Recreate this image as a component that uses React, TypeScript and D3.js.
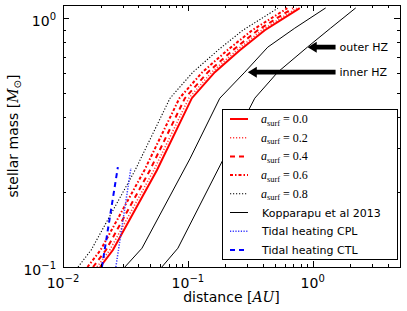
import React from 'react';
import * as d3 from 'd3';

const W = 407;
const H = 311;

// stellar mass grid for the albedo curves
const albedoMass = [0.1, 0.117, 0.245, 0.477, 0.607, 0.744, 0.895, 1.097];
const dist00 = [0.0198, 0.0251, 0.0565, 0.1076, 0.1644, 0.2606, 0.413, 0.787];
const dist02 = [0.0187, 0.0237, 0.0534, 0.1018, 0.1555, 0.2465, 0.391, 0.744];
const dist04 = [0.0174, 0.0221, 0.0497, 0.0947, 0.1447, 0.2294, 0.363, 0.693];
const dist06 = [0.0157, 0.02, 0.0449, 0.0856, 0.1307, 0.2073, 0.328, 0.626];
const dist08 = [0.0132, 0.0168, 0.0378, 0.072, 0.1099, 0.1743, 0.276, 0.526];

// Kopparapu et al 2013 habitable zone edges
const hzMass = [0.1, 0.119, 0.272, 0.477, 0.607, 0.765, 0.912, 1.1];
const hzInner = [0.0313, 0.0429, 0.1038, 0.1803, 0.2858, 0.4365, 0.718, 1.27];
const hzOuter = [0.0619, 0.0832, 0.1927, 0.3436, 0.5248, 0.906, 1.39, 2.21];

// tidal heating limits
const cplMass = [0.1, 0.25];
const cplDist = [0.0265, 0.035];
const ctlMass = [0.1, 0.252];
const ctlDist = [0.0205, 0.0275];

const albedoValues = ['0.0', '0.2', '0.4', '0.6', '0.8'];
const otherLabels = ['Kopparapu et al 2013', 'Tidal heating CPL', 'Tidal heating CTL'];

const hzNames = ['inner HZ', 'outer HZ'];
const hzTipDist = [0.302, 0.912];
const hzTipMass = [0.607, 0.765];
const hzTextDist = [1.64, 1.64];

const xMajor = [0.01, 0.1, 1];
const yMajor = [0.1, 1];

type Style = { color: string; width: number; dash?: string; cap?: string };

const styles: Style[] = [
  { color: '#ff0000', width: 2 },
  { color: '#ff4040', width: 1.6, dash: '1.2,1.8' },
  { color: '#ff0000', width: 2, dash: '5,4' },
  { color: '#ff0000', width: 2, dash: '3,2,1.5,2' },
  { color: '#000000', width: 1.1, dash: '1.2,1.8' },
  { color: '#000000', width: 1 },
  { color: '#3333ff', width: 1.5, dash: '1.2,1.5' },
  { color: '#0000ff', width: 2, dash: '5,4' },
];

const zip = (a: number[], b: number[]) => a.map((v, i) => [v, b[i]] as [number, number]);

function Sup({ v, x, y, anchor }: { v: number; x: number; y: number; anchor: string }) {
  const e = Math.round(Math.log10(v));
  const s = e < 0 ? '\u2212' + Math.abs(e) : String(e);
  return (
    <text x={x} y={y} textAnchor={anchor} fontSize={14} fontFamily="DejaVu Sans">
      10<tspan dy={-6} fontSize={10}>{s}</tspan>
    </text>
  );
}

export default function App() {
  const left = 63, right = 400, top = 5, bottom = 267;
  const x = d3.scaleLog().domain([0.01, 5]).range([left, right]);
  const y = d3.scaleLog().domain([0.1, 1.13]).range([bottom, top]);
  const line = d3.line<[number, number]>().x(d => x(d[0])).y(d => y(d[1]));

  const series = [
    zip(dist00, albedoMass),
    zip(dist02, albedoMass),
    zip(dist04, albedoMass),
    zip(dist06, albedoMass),
    zip(dist08, albedoMass),
  ];
  const hzLines = [zip(hzInner, hzMass), zip(hzOuter, hzMass)];
  const cpl = zip(cplDist, cplMass);
  const ctl = zip(ctlDist, ctlMass);

  const xt = x.ticks().filter(t => t >= 0.01 && t <= 5);
  const yt = y.ticks();
  const isMajor = (t: number, majors: number[]) => majors.some(m => Math.abs(m - t) < 1e-9);

  const lg = { x0: 222, y0: 109, x1: 397, y1: 259 };
  const rowY = (i: number) => 119 + i * 18.7;

  return (
    <svg width={W} height={H} style={{ position: 'absolute', left: 0, top: 0, background: '#fff' }}>
      <defs>
        <clipPath id="plot">
          <rect x={left} y={top} width={right - left} height={bottom - top} />
        </clipPath>
      </defs>
      <rect width={W} height={H} fill="#fff" />
      <g clipPath="url(#plot)" fill="none">
        {hzLines.map((d, i) => (
          <path key={'hz' + i} d={line(d) || ''} stroke={styles[5].color} strokeWidth={styles[5].width} />
        ))}
        {series.map((d, i) => (
          <path key={'a' + i} d={line(d) || ''} stroke={styles[i].color} strokeWidth={styles[i].width}
            strokeDasharray={styles[i].dash} />
        )).reverse()}
        <path d={line(cpl) || ''} stroke={styles[6].color} strokeWidth={styles[6].width} strokeDasharray={styles[6].dash} />
        <path d={line(ctl) || ''} stroke={styles[7].color} strokeWidth={styles[7].width} strokeDasharray={styles[7].dash} />
      </g>

      {/* HZ arrows */}
      {hzNames.map((name, i) => {
        const tx = x(hzTipDist[i]);
        const ty = y(hzTipMass[i]);
        const tail = x(hzTextDist[i]) - 4;
        const hl = 9, hw = 5.5, sw = 2.4;
        const pts = [
          [tx, ty], [tx + hl, ty - hw], [tx + hl, ty - sw], [tail, ty - sw],
          [tail, ty + sw], [tx + hl, ty + sw], [tx + hl, ty + hw],
        ].map(p => p.join(',')).join(' ');
        return (
          <g key={name}>
            <polygon points={pts} fill="#000" />
            <text x={x(hzTextDist[i])} y={ty + 4} fontSize={11} fontFamily="DejaVu Sans">{name}</text>
          </g>
        );
      })}

      {/* legend */}
      <rect x={lg.x0 + 0.5} y={lg.y0 + 0.5} width={lg.x1 - lg.x0} height={lg.y1 - lg.y0}
        fill="#fff" stroke="#000" strokeWidth={1} />
      {styles.map((s, i) => (
        <line key={'ls' + i} x1={230} x2={248} y1={rowY(i)} y2={rowY(i)} stroke={s.color}
          strokeWidth={s.width} strokeDasharray={s.dash} />
      ))}
      {albedoValues.map((v, i) => (
        <text key={'lt' + i} x={261} y={rowY(i) + 4} fontSize={12} fontFamily="Liberation Serif">
          <tspan fontStyle="italic">a</tspan>
          <tspan fontSize={8.4} dy={2.5}>surf</tspan>
          <tspan dy={-2.5} dx={3}>=</tspan>
          <tspan dx={3}>{v}</tspan>
        </text>
      ))}
      {otherLabels.map((t, i) => (
        <text key={'lo' + i} x={262} y={rowY(i + 5) + 4} fontSize={11} fontFamily="DejaVu Sans">{t}</text>
      ))}

      {/* axes frame and ticks */}
      <g stroke="#000" strokeWidth={1} shapeRendering="crispEdges">
        <rect x={left} y={top} width={right - left} height={bottom - top} fill="none" />
        {xt.map((t, i) => {
          const len = isMajor(t, xMajor) ? 6 : 3;
          const px = Math.round(x(t)) + 0.5;
          return (
            <g key={'xt' + i}>
              <line x1={px} x2={px} y1={bottom} y2={bottom - len} />
              <line x1={px} x2={px} y1={top} y2={top + len} />
            </g>
          );
        })}
        {yt.map((t, i) => {
          const len = isMajor(t, yMajor) ? 6 : 3;
          const py = Math.round(y(t)) + 0.5;
          return (
            <g key={'yt' + i}>
              <line x1={left} x2={left + len} y1={py} y2={py} />
              <line x1={right} x2={right - len} y1={py} y2={py} />
            </g>
          );
        })}
      </g>
      {xMajor.map(t => <Sup key={'xl' + t} v={t} x={x(t)} y={288} anchor="middle" />)}
      {yMajor.map(t => <Sup key={'yl' + t} v={t} x={left - 7} y={y(t) + 7.5} anchor="end" />)}

      <text x={(left + right) / 2} y={302} textAnchor="middle" fontSize={14} fontFamily="DejaVu Sans">
        distance [<tspan fontFamily="DejaVu Serif" fontStyle="italic">AU</tspan>]
      </text>
      <text transform={`translate(18,${(top + bottom) / 2}) rotate(-90)`} textAnchor="middle" fontSize={14}
        fontFamily="DejaVu Sans">
        stellar mass [<tspan fontFamily="DejaVu Serif" fontStyle="italic">M</tspan>
        <tspan fontSize={10} dy={3}>{'\u2299'}</tspan><tspan dy={-3}>]</tspan>
      </text>
    </svg>
  );
}
